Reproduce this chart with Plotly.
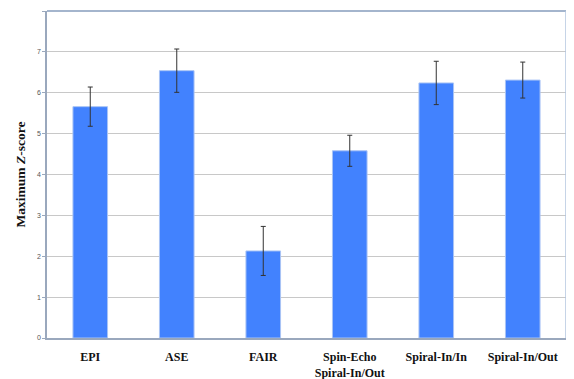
import plotly.graph_objects as go

categories = ["EPI", "ASE", "FAIR", "Spin-Echo<br>Spiral-In/Out", "Spiral-In/In", "Spiral-In/Out"]
max_z = [5.66, 6.54, 2.13, 4.58, 6.24, 6.31]
err = [0.48, 0.53, 0.60, 0.38, 0.53, 0.44]
y_ticks = [0, 1, 2, 3, 4, 5, 6, 7, 8]

fig = go.Figure()
fig.add_trace(go.Bar(
    x=categories, y=max_z,
    marker=dict(color="#4282fe", line=dict(color="#a9c4f5", width=1)),
    error_y=dict(type="data", array=err, visible=True, color="#333333", thickness=1, width=2.5),
    width=0.4,
))

fig.update_layout(
    width=566, height=371,
    margin=dict(l=39, r=8, t=3, b=41),
    plot_bgcolor="white", paper_bgcolor="white",
    showlegend=False,
    xaxis=dict(
        showline=True, linecolor="#9aa8bd", linewidth=1.5,
        tickfont=dict(family="Liberation Serif", size=12, color="#111111"),
        tickprefix="<b>", ticksuffix="</b>",
        ticks="", showgrid=False, automargin=False,
        ticklabelstandoff=7,
        range=[-0.5, 5.5],
    ),
    yaxis=dict(
        range=[0, 8], tickvals=y_ticks, ticktext=[str(v) for v in y_ticks],
        showgrid=True, gridcolor="#c8c8c8", gridwidth=1,
        showline=True, linecolor="#9aa8bd", linewidth=1.5,
        ticks="outside", ticklen=3, tickcolor="#9aa8bd",
        tickfont=dict(family="Liberation Sans", size=7, color="#555555"),
        automargin=False,
        title=dict(text="<b>Maximum <i>Z</i>-score</b>",
                   font=dict(family="Liberation Serif", size=13.5, color="#111111"),
                   standoff=8),
        zeroline=False,
    ),
    shapes=[
        dict(type="line", xref="paper", yref="paper", x0=0, x1=1, y0=1, y1=1,
             line=dict(color="#4a6c9c", width=1.2)),
        dict(type="line", xref="paper", yref="paper", x0=1, x1=1, y0=0, y1=1,
             line=dict(color="#b3c6df", width=1.5)),
    ],
)

fig.write_html("out.html")
